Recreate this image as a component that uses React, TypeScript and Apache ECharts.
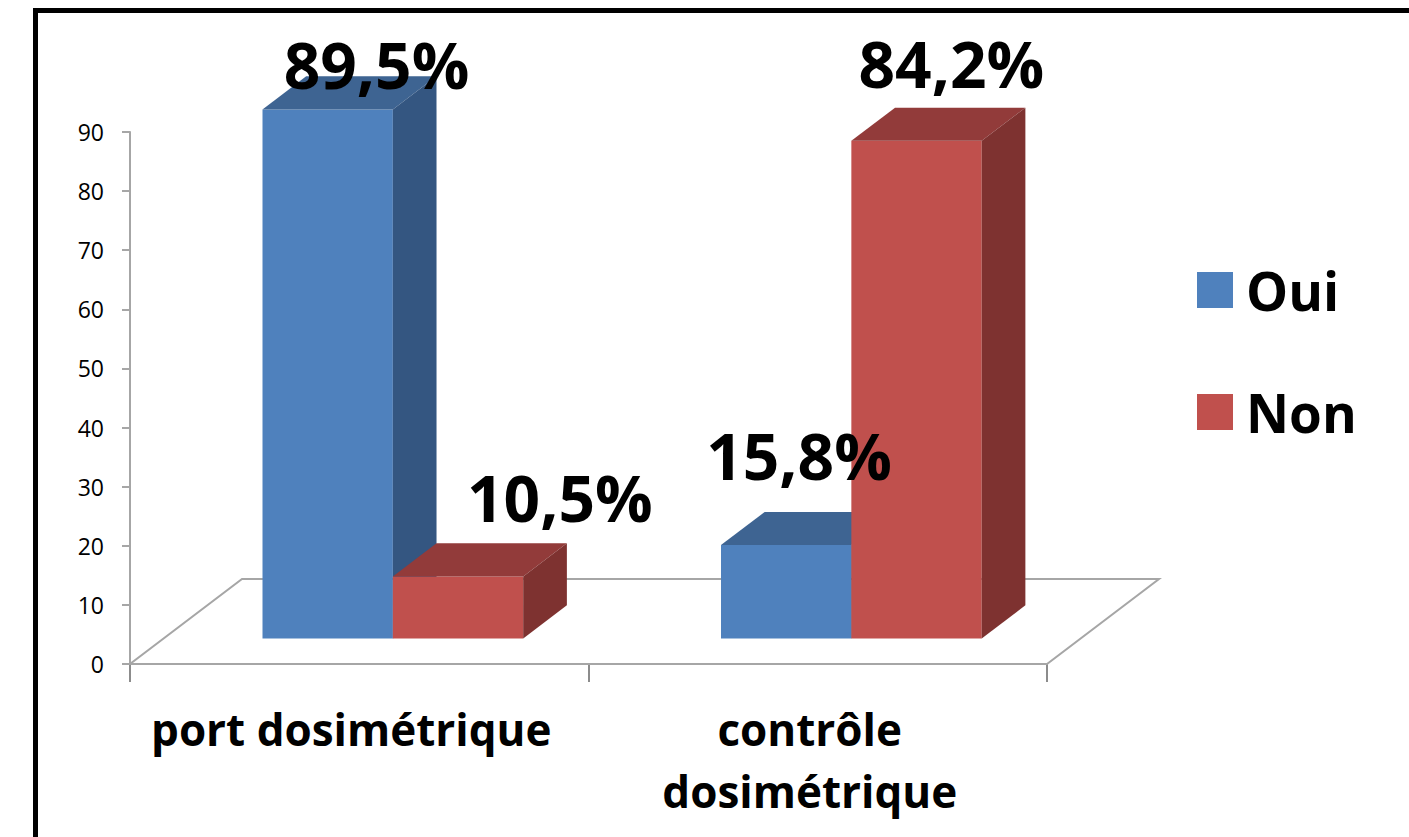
import React, { useEffect, useRef } from 'react';
import * as echarts from 'echarts';

// ---- data ----
const categories = ['port dosimétrique', 'contrôle\ndosimétrique'];
const seriesNames = ['Oui', 'Non'];
const ouiValues = [89.5, 15.8];
const nonValues = [10.5, 84.2];
const yMin = 0;
const yMax = 90;
const yStep = 10;

// ---- style ----
const FONT = '"Open Sans", "Noto Sans", sans-serif';
const DEPTH = [112, -85]; // floor depth vector (px)
const FRONT_GAP = 0.3;
const BAR_DEPTH = 0.39;
const BAR_FRAC = 0.2843;
const BLUE = { face: '#4F81BD', top: '#3E6492', side: '#345681' };
const RED = { face: '#C0504D', top: '#923B3A', side: '#7E3230' };
// manual label nudges relative to bar back-top centre
const OUI_NUDGE = [[27, -12], [-9, -56]];
const NON_NUDGE = [[80, -46], [13, -44]];

const fmt = (v: number) => v.toFixed(1).replace('.', ',') + '%';

function makeBarRenderer(side: number, colors: any, nudges: number[][], layer: number) {
  return (params: any, api: any) => {
    const ci = api.value(0);
    const v = api.value(1);
    const base = api.coord([ci, 0]);
    const tip = api.coord([ci, v]);
    const bw = api.size([1, 0])[0] * BAR_FRAC;
    const fx = DEPTH[0] * FRONT_GAP;
    const fy = DEPTH[1] * FRONT_GAP;
    const dx = DEPTH[0] * BAR_DEPTH;
    const dy = DEPTH[1] * BAR_DEPTH;
    const x0 = base[0] + fx + side * bw;
    const x1 = x0 + bw;
    const yb = base[1] + fy;
    const yt = tip[1] + fy;
    const n = nudges[params.dataIndex] || [0, 0];
    return {
      type: 'group',
      children: [
        {
          type: 'rect',
          z2: layer,
          shape: { x: x0, y: yt, width: bw, height: yb - yt },
          style: { fill: colors.face },
        },
        {
          type: 'polygon',
          z2: layer,
          shape: { points: [[x0, yt], [x1, yt], [x1 + dx, yt + dy], [x0 + dx, yt + dy]] },
          style: { fill: colors.top },
        },
        {
          type: 'polygon',
          z2: layer,
          shape: { points: [[x1, yt], [x1 + dx, yt + dy], [x1 + dx, yb + dy], [x1, yb]] },
          style: { fill: colors.side },
        },
        {
          type: 'text',
          z2: 50,
          x: x0 + bw / 2 + dx / 2 + n[0],
          y: yt + dy + n[1],
          style: {
            text: fmt(v),
            fill: '#000',
            fontSize: 64,
            fontWeight: 'bold',
            fontFamily: FONT,
            align: 'center',
            verticalAlign: 'middle',
          },
        },
      ],
    };
  };
}

export default function App() {
  const ref = useRef<HTMLDivElement>(null);
  useEffect(() => {
    if (!ref.current) return;
    const chart = echarts.init(ref.current, undefined, { renderer: 'svg' });
    const option: any = {
      animation: false,
      backgroundColor: '#fff',
      grid: { left: 130, top: 132, width: 917, height: 532, containLabel: false },
      xAxis: {
        type: 'category',
        data: categories,
        axisLine: { show: true, lineStyle: { color: '#A6A6A6', width: 2 } },
        axisTick: { show: true, length: 18, lineStyle: { color: '#8C8C8C', width: 2 } },
        axisLabel: {
          interval: 0,
          margin: 34,
          color: '#000',
          fontSize: 44,
          fontWeight: 'bold',
          fontFamily: FONT,
          lineHeight: 62,
          padding: [0, 16, 0, 0],
        },
        splitLine: { show: false },
      },
      yAxis: {
        type: 'value',
        min: yMin,
        max: yMax,
        interval: yStep,
        axisLine: { show: true, lineStyle: { color: '#A6A6A6', width: 2 } },
        axisTick: { show: true, length: 8, lineStyle: { color: '#A6A6A6', width: 2 } },
        axisLabel: { color: '#000', fontSize: 23, fontFamily: FONT, margin: 26 },
        splitLine: { show: false },
      },
      legend: {
        data: [
          { name: seriesNames[0], icon: 'rect' },
          { name: seriesNames[1], icon: 'rect' },
        ],
        orient: 'vertical',
        left: 1192,
        top: 258,
        padding: 5,
        itemWidth: 36,
        itemHeight: 36,
        itemGap: 68,
        selectedMode: false,
        textStyle: {
          fontSize: 53,
          fontWeight: 'bold',
          fontFamily: FONT,
          color: '#000',
          lineHeight: 54,
          padding: [0, 0, 0, 8],
        },
      },
      graphic: [
        {
          type: 'rect',
          shape: { x: 35.5, y: 10.5, width: 3000, height: 3000 },
          style: { fill: 'none', stroke: '#000', lineWidth: 5 },
          silent: true,
          z: 100,
        },
      ],
      series: [
        {
          name: 'floor',
          type: 'custom',
          z: 1,
          silent: true,
          data: [[0, 0]],
          renderItem: (params: any) => {
            const cs = params.coordSys;
            const xl = cs.x;
            const xr = cs.x + cs.width;
            const yb = cs.y + cs.height;
            return {
              type: 'polygon',
              shape: {
                points: [
                  [xl, yb],
                  [xr, yb],
                  [xr + DEPTH[0], yb + DEPTH[1]],
                  [xl + DEPTH[0], yb + DEPTH[1]],
                ],
              },
              style: { fill: '#fff', stroke: '#A6A6A6', lineWidth: 2 },
            };
          },
        },
        {
          name: seriesNames[0],
          type: 'custom',
          z: 3,
          itemStyle: { color: BLUE.face },
          data: categories.map((_, i) => [i, ouiValues[i]]),
          renderItem: makeBarRenderer(-1, BLUE, OUI_NUDGE, 1),
        },
        {
          name: seriesNames[1],
          type: 'custom',
          z: 3,
          itemStyle: { color: RED.face },
          data: categories.map((_, i) => [i, nonValues[i]]),
          renderItem: makeBarRenderer(0, RED, NON_NUDGE, 2),
        },
      ],
    };
    chart.setOption(option);
    return () => chart.dispose();
  }, []);
  return (
    <div
      ref={ref}
      style={{ position: 'fixed', left: 0, top: 0, width: 1409, height: 837, background: '#fff' }}
    />
  );
}
